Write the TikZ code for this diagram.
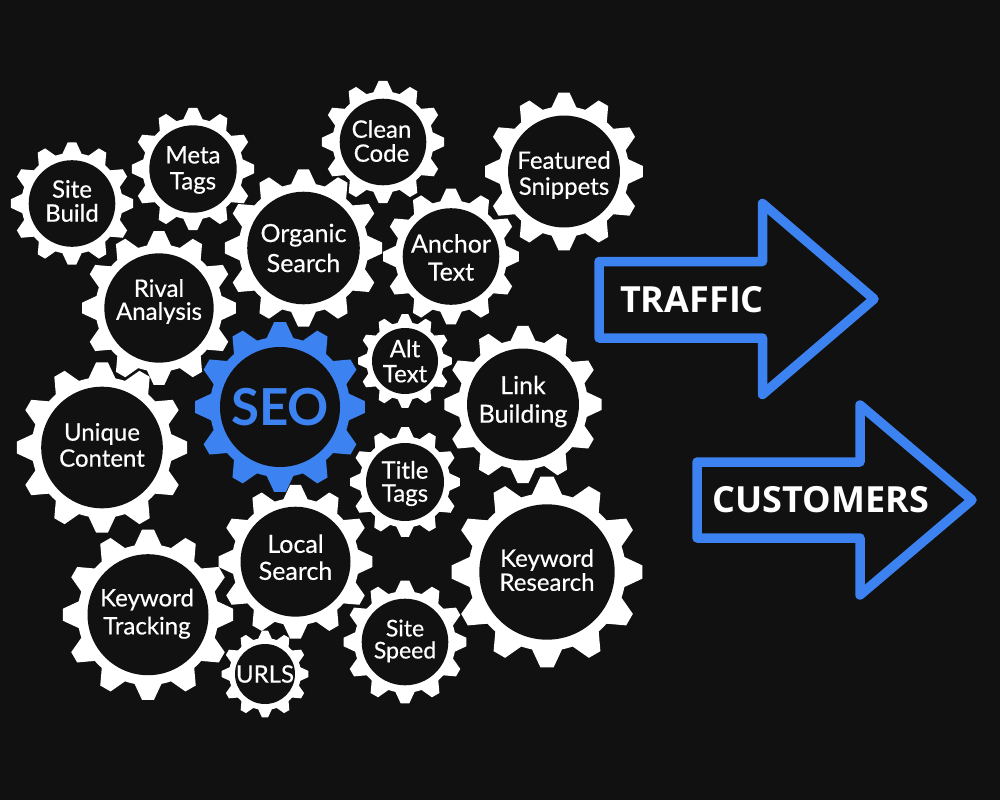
\documentclass[tikz,border=0pt]{standalone}
\usepackage{fontspec}
\setmainfont{Lato}[RawFeature={embolden=0.5}]
\newfontfamily\seofont{Lato}
\newfontfamily\arrowfont{Open Sans}
\definecolor{bg}{HTML}{111111}
\definecolor{seoblue}{HTML}{3C82F0}
\tikzset{
  gearhole/.style={circle,fill=bg,inner sep=0pt},
  gearlabel/.style={inner sep=0pt,align=center},
  arrowline/.style={draw=seoblue,line width=9.5pt,line join=round},
  arrowlabel/.style={text=white,inner sep=0pt,anchor=center}
}
\newcommand\fs[2]{\fontsize{#1}{#2}\selectfont}
% [colour]{name}{x}{y}{outer R}{hole r}{rotation}{label options}{text}
\newcommand\gear[9][white]{%
  \fill[#1] (#3,#4) circle[radius=0.825*#5];
  \foreach \i in {0,...,11}{
    \fill[#1,shift={(#3,#4)}] (#7+30*\i-11.5:0.815*#5) -- (#7+30*\i-4:#5) -- (#7+30*\i+4:#5) -- (#7+30*\i+11.5:0.815*#5) -- cycle;
  }
  \node[gearhole,minimum size=2*#6 pt] (#2) at (#3,#4) {};
  \node[gearlabel,text=#1,#8] (#2-label) at (#3,#4) {#9};
}
\begin{document}
\begin{tikzpicture}[x=1pt,y=-1pt]
\fill[bg] (0,0) rectangle (1000,800);
\useasboundingbox (0,0) rectangle (1000,800);
\gear{sitebuild}{72}{203.5}{61.3}{43.3}{0}{font=\fs{24}{24},yshift=2.5pt}{Site\\Build}
\gear{metatags}{193}{169}{61.3}{43.7}{0}{font=\fs{24}{26},yshift=-1pt}{Meta\\Tags}
\gear{cleancode}{383}{142}{61.3}{43.3}{0}{font=\fs{24}{24},yshift=1pt,xshift=-1.5pt}{Clean\\Code}
\gear{snippets}{564}{171.5}{79}{56}{0}{font=\fs{24}{26},yshift=-3.5pt}{Featured\\Snippets}
\gear{organic}{303.5}{248}{78.7}{56.3}{0}{font=\fs{25}{30}}{Organic\\Search}
\gear{anchor}{451}{256.5}{68}{48.3}{0}{font=\fs{25}{28},yshift=-1pt}{Anchor\\Text}
\gear{rival}{159}{308}{77}{54.7}{0}{font=\fs{24}{23},yshift=6.5pt}{Rival\\Analysis}
\gear{alt}{405}{361}{47}{33}{0}{font=\fs{24}{25}}{Alt\\Text}
\gear{link}{523}{404.5}{78.7}{56}{0}{font=\fs{25}{28.5},yshift=3pt}{Link\\Building}
\gear{unique}{102}{447.5}{85.3}{60.8}{0}{font=\fs{24}{26},yshift=2.5pt}{Unique\\Content}
\gear{title}{405}{482}{55}{39}{0}{font=\fs{24}{23},yshift=-1.5pt}{Title\\Tags}
\gear{local}{295.5}{561.7}{77}{55}{0}{font=\fs{25}{27},yshift=4.5pt}{Local\\Search}
\gear{research}{547}{572}{95.5}{67.7}{0}{font=\fs{24}{24},yshift=2pt}{Keyword\\Research}
\gear{tracking}{148}{614.7}{85.4}{60.5}{0}{font=\fs{24}{28},yshift=1pt,xshift=-1pt}{Keyword\\Tracking}
\gear{speed}{405}{642}{61.5}{43.3}{0}{font=\fs{23}{22},yshift=1pt}{Site\\Speed}
\gear{urls}{265}{674}{43.5}{30}{0}{font=\fs{24}{25}}{URLS}
\gear[seoblue]{seo}{280}{407}{85}{60}{0}{font=\seofont\bfseries\fs{51}{51}}{SEO}
\draw[arrowline] (599,261.5) -- (762.5,261.5) -- (762.5,203.5) -- (874,299) -- (762.5,394.5) -- (762.5,338) -- (599,338) -- cycle;
\draw[arrowline] (697,462) -- (860,462) -- (860,405) -- (972,500) -- (860,595) -- (860,538) -- (697,538) -- cycle;
\node[arrowlabel,font=\arrowfont\bfseries\fs{36}{36}] (traffic) at (692,299.5) {TRAFFIC};
\node[arrowlabel,font=\arrowfont\bfseries\fs{36}{36}] (customers) at (821,500) {CUSTOMERS};
\end{tikzpicture}
\end{document}
